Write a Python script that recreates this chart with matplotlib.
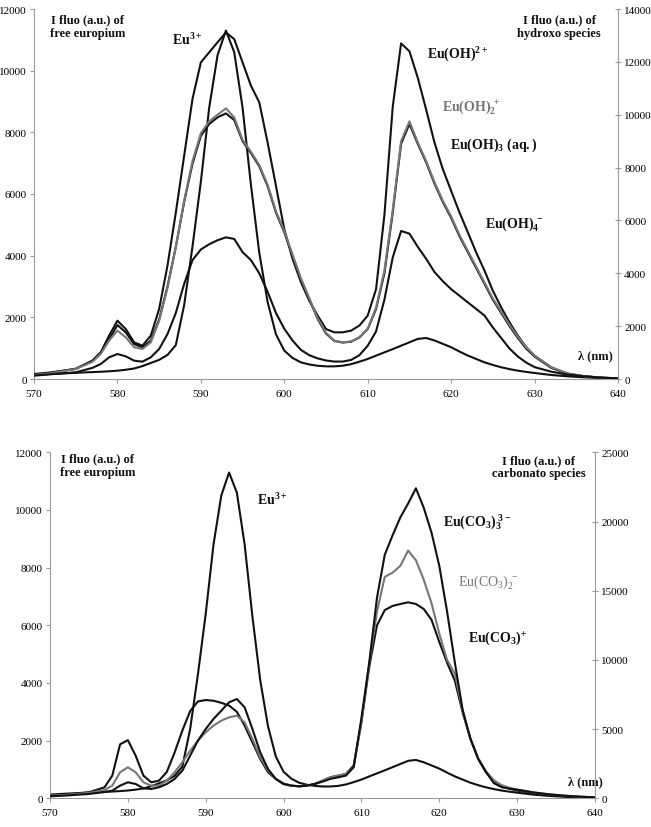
import matplotlib
matplotlib.use("Agg")
import matplotlib.pyplot as plt

plt.rcParams['font.family'] = ['Liberation Serif', 'DejaVu Serif']
plt.rcParams['mathtext.fontset'] = 'custom'
plt.rcParams['mathtext.rm'] = 'Liberation Serif'
plt.rcParams['mathtext.bf'] = 'Liberation Serif:bold'
plt.rcParams['mathtext.it'] = 'Liberation Serif:italic'

# ---------------- data ----------------
wavelength = [570, 572, 575, 577, 578, 579, 580, 581, 582, 583, 584, 585, 586, 587, 588, 589,
              590, 591, 592, 593, 594, 595, 596, 597, 598, 599, 600, 601, 602, 603, 604, 605,
              606, 607, 608, 609, 610, 611, 612, 613, 614, 615, 616, 617, 618, 619, 620, 621,
              622, 623, 624, 625, 626, 627, 628, 629, 630, 632, 634, 636, 638, 640]

# free europium (left axis, both panels)
eu3 = [130, 160, 200, 225, 235, 250, 270, 300, 340, 420, 520, 620, 780, 1100, 2400, 4300,
       6400, 8800, 10500, 11300, 10600, 8800, 6300, 4100, 2500, 1450, 920, 680, 540, 470, 430, 410,
       410, 430, 480, 560, 650, 757, 865, 970, 1080, 1190, 1300, 1330, 1250, 1140, 1030, 890,
       760, 650, 540, 455, 380, 320, 270, 230, 195, 130, 86, 54, 32, 22]

# hydroxo species (right axis, top panel)
eu_oh = [189, 250, 378, 700, 1009, 1640, 2207, 1890, 1387, 1261, 1640, 2650, 4290, 6300, 8450, 10600,
         11980, 12360, 12740, 13110, 12860, 11980, 11100, 10470, 8950, 7310, 5670, 4540, 3660, 2960, 2400, 1890,
         1766, 1766, 1830, 2020, 2400, 3400, 6200, 10300, 12700, 12400, 11400, 10200, 8950, 7940, 7120, 6300,
         5550, 4790, 4100, 3340, 2710, 2140, 1640, 1200, 880, 440, 190, 100, 50, 25]
eu_oh2 = [150, 220, 380, 650, 950, 1450, 1830, 1575, 1200, 1135, 1387, 2200, 3450, 5000, 6750, 8250,
          9300, 9750, 10000, 10240, 9900, 9050, 8600, 8100, 7350, 6350, 5600, 4700, 3800, 3050, 2300, 1750,
          1450, 1390, 1420, 1580, 1900, 2700, 4100, 6400, 9000, 9750, 8950, 8250, 7450, 6750, 6150, 5450,
          4850, 4250, 3650, 3050, 2550, 2050, 1600, 1200, 880, 440, 210, 105, 52, 22]
eu_oh3 = [160, 230, 390, 680, 980, 1500, 2040, 1765, 1320, 1200, 1450, 2250, 3500, 5000, 6700, 8150,
          9200, 9650, 9900, 10050, 9800, 9000, 8550, 8050, 7300, 6300, 5550, 4650, 3780, 3030, 2270, 1720,
          1440, 1380, 1410, 1570, 1890, 2650, 4000, 6300, 8900, 9650, 8900, 8200, 7400, 6700, 6100, 5400,
          4800, 4200, 3600, 3000, 2500, 2000, 1550, 1150, 850, 420, 200, 100, 50, 20]
eu_oh4 = [126, 180, 252, 420, 567, 820, 946, 857, 694, 656, 820, 1135, 1700, 2500, 3600, 4500,
          4900, 5100, 5250, 5360, 5300, 4800, 4500, 4000, 3300, 2500, 1900, 1450, 1100, 900, 780, 700,
          660, 660, 720, 900, 1261, 1800, 3000, 4600, 5600, 5500, 5000, 4550, 4050, 3700, 3400, 3150,
          2900, 2650, 2400, 1950, 1550, 1150, 850, 620, 450, 277, 164, 100, 50, 25]

# carbonato species (right axis, bottom panel)
eu_co3 = [193, 260, 433, 795, 1637, 3900, 4200, 3080, 1637, 1156, 1276, 1900, 3300, 4900, 6300, 7000,
          7100, 7050, 6900, 6700, 6250, 5250, 4045, 2840, 1878, 1400, 1035, 915, 867, 915, 1035, 1276,
          1517, 1637, 1758, 2360, 5500, 9500, 12500, 13600, 13900, 14040, 14160, 14040, 13680, 12900, 11300, 9800,
          8500, 6200, 4300, 2840, 1880, 1276, 915, 700, 554, 385, 240, 144, 96, 48]
eu_co3_2 = [193, 250, 385, 600, 915, 1878, 2240, 1878, 1156, 915, 915, 1276, 1878, 2600, 3440, 4165,
            4770, 5250, 5610, 5850, 5970, 5490, 4290, 2960, 2000, 1400, 1085, 915, 867, 915, 1035, 1276,
            1517, 1637, 1758, 2240, 5500, 9700, 13500, 16000, 16300, 16800, 17900, 17200, 15800, 14100, 11900, 10000,
            9000, 6300, 4300, 2900, 1950, 1300, 950, 760, 626, 433, 290, 193, 120, 72]
eu_co3_3 = [144, 200, 313, 450, 554, 915, 1156, 1035, 722, 674, 795, 1035, 1400, 2000, 3080, 4165,
            5010, 5730, 6330, 6935, 7175, 6570, 5010, 3320, 2120, 1400, 1035, 915, 867, 915, 1035, 1200,
            1400, 1517, 1637, 2240, 5800, 9800, 14500, 17600, 19000, 20300, 21300, 22400, 21000, 19200, 16800, 13500,
            9800, 6400, 4300, 2850, 1900, 1100, 800, 700, 626, 433, 290, 193, 120, 72]

x_ticks = [570, 580, 590, 600, 610, 620, 630, 640]
left_ticks = [0, 2000, 4000, 6000, 8000, 10000, 12000]
right_ticks_top = [0, 2000, 4000, 6000, 8000, 10000, 12000, 14000]
right_ticks_bot = [0, 5000, 10000, 15000, 20000, 25000]

BLACK = '#111111'
GRAY = '#777777'
SPINE = '#9a9a9a'
LW = 1.5

fig = plt.figure(figsize=(6.51, 8.28), dpi=100)


def style(ax, ax2, rticks, rmax):
    for a in (ax, ax2):
        a.spines['top'].set_visible(False)
    ax.spines['right'].set_visible(False)
    ax2.spines['left'].set_visible(False)
    ax2.spines['bottom'].set_visible(False)
    for s in ('left', 'bottom'):
        ax.spines[s].set_color(SPINE)
    ax2.spines['right'].set_color(SPINE)
    ax.set_xlim(570, 640)
    ax.set_ylim(0, 12000)
    ax2.set_ylim(0, rmax)
    ax.set_xticks(x_ticks)
    ax.set_yticks(left_ticks)
    ax2.set_yticks(rticks)
    ax.tick_params(axis='y', direction='out', length=3, color=SPINE, labelsize=8, pad=2)
    ax.tick_params(axis='x', direction='out', length=3, color=SPINE, labelsize=8, pad=4)
    ax2.tick_params(axis='y', direction='inout', length=5, color=SPINE, labelsize=8, pad=2)


# ---------------- top panel ----------------
ax = fig.add_axes([34 / 651, 1 - 380 / 828, 584 / 651, 370 / 828])
ax2 = ax.twinx()
style(ax, ax2, right_ticks_top, 14000)
ax.plot(wavelength, eu3, color=BLACK, lw=LW)
ax2.plot(wavelength, eu_oh, color=BLACK, lw=LW)
ax2.plot(wavelength, eu_oh3, color=BLACK, lw=LW)
ax2.plot(wavelength, eu_oh2, color=GRAY, lw=LW)
ax2.plot(wavelength, eu_oh4, color=BLACK, lw=LW)

tk = dict(transform=ax.transAxes, fontsize=9, fontweight='bold', color=BLACK)
ax.text(0.092, 0.988, 'I fluo (a.u.) of\nfree europium', ha='center', va='top',
        multialignment='center', linespacing=1.15, **tk)
ax.text(0.899, 0.988, 'I fluo (a.u.) of\nhydroxo species', ha='center', va='top',
        multialignment='center', linespacing=1.15, **tk)
ax.text(0.932, 0.065, 'λ (nm)', ha='left', va='center', **tk)
sk = dict(transform=ax.transAxes, fontsize=10, ha='left', va='center')
ax.text(0.236, 0.919, r'$\mathbf{Eu^{3+}}$', color=BLACK, **sk)
ax.text(0.673, 0.878, r'$\mathbf{Eu(OH)^{2+}}$', color=BLACK, **sk)
ax.text(0.699, 0.735, r'$\mathbf{Eu(OH)_2^{\ +}}$', color=GRAY, **sk)
ax.text(0.712, 0.635, r'$\mathbf{Eu(OH)_3\ (aq.)}$', color=BLACK, **sk)
ax.text(0.772, 0.422, r'$\mathbf{Eu(OH)_4^{\ -}}$', color=BLACK, **sk)

# ---------------- bottom panel ----------------
bx = fig.add_axes([50 / 651, 1 - 799.3 / 828, 545 / 651, 346 / 828])
bx2 = bx.twinx()
style(bx, bx2, right_ticks_bot, 25000)
bx.plot(wavelength, eu3, color=BLACK, lw=LW)
bx2.plot(wavelength, eu_co3, color=BLACK, lw=LW)
bx2.plot(wavelength, eu_co3_2, color=GRAY, lw=LW)
bx2.plot(wavelength, eu_co3_3, color=BLACK, lw=LW)

tk = dict(transform=bx.transAxes, fontsize=9, fontweight='bold', color=BLACK)
bx.text(0.087, 1.0, 'I fluo (a.u.) of\nfree europium', ha='center', va='top',
        multialignment='center', linespacing=1.15, **tk)
bx.text(0.897, 0.995, 'I fluo (a.u.) of\ncarbonato species', ha='center', va='top',
        multialignment='center', linespacing=1.15, **tk)
bx.text(0.950, 0.050, 'λ (nm)', ha='left', va='center', **tk)
sk = dict(transform=bx.transAxes, fontsize=10, ha='left', va='center')
bx.text(0.380, 0.865, r'$\mathbf{Eu^{3+}}$', color=BLACK, **sk)
bx.text(0.721, 0.799, r'$\mathbf{Eu(CO_3)_3^{\ 3-}}$', color=BLACK, **sk)
bx.text(0.749, 0.628, r'$\mathrm{Eu(CO_3)_2^{\ -}}$', color=GRAY, **sk)
bx.text(0.767, 0.466, r'$\mathbf{Eu(CO_3)^{+}}$', color=BLACK, **sk)

fig.savefig('out.png', dpi=100)
